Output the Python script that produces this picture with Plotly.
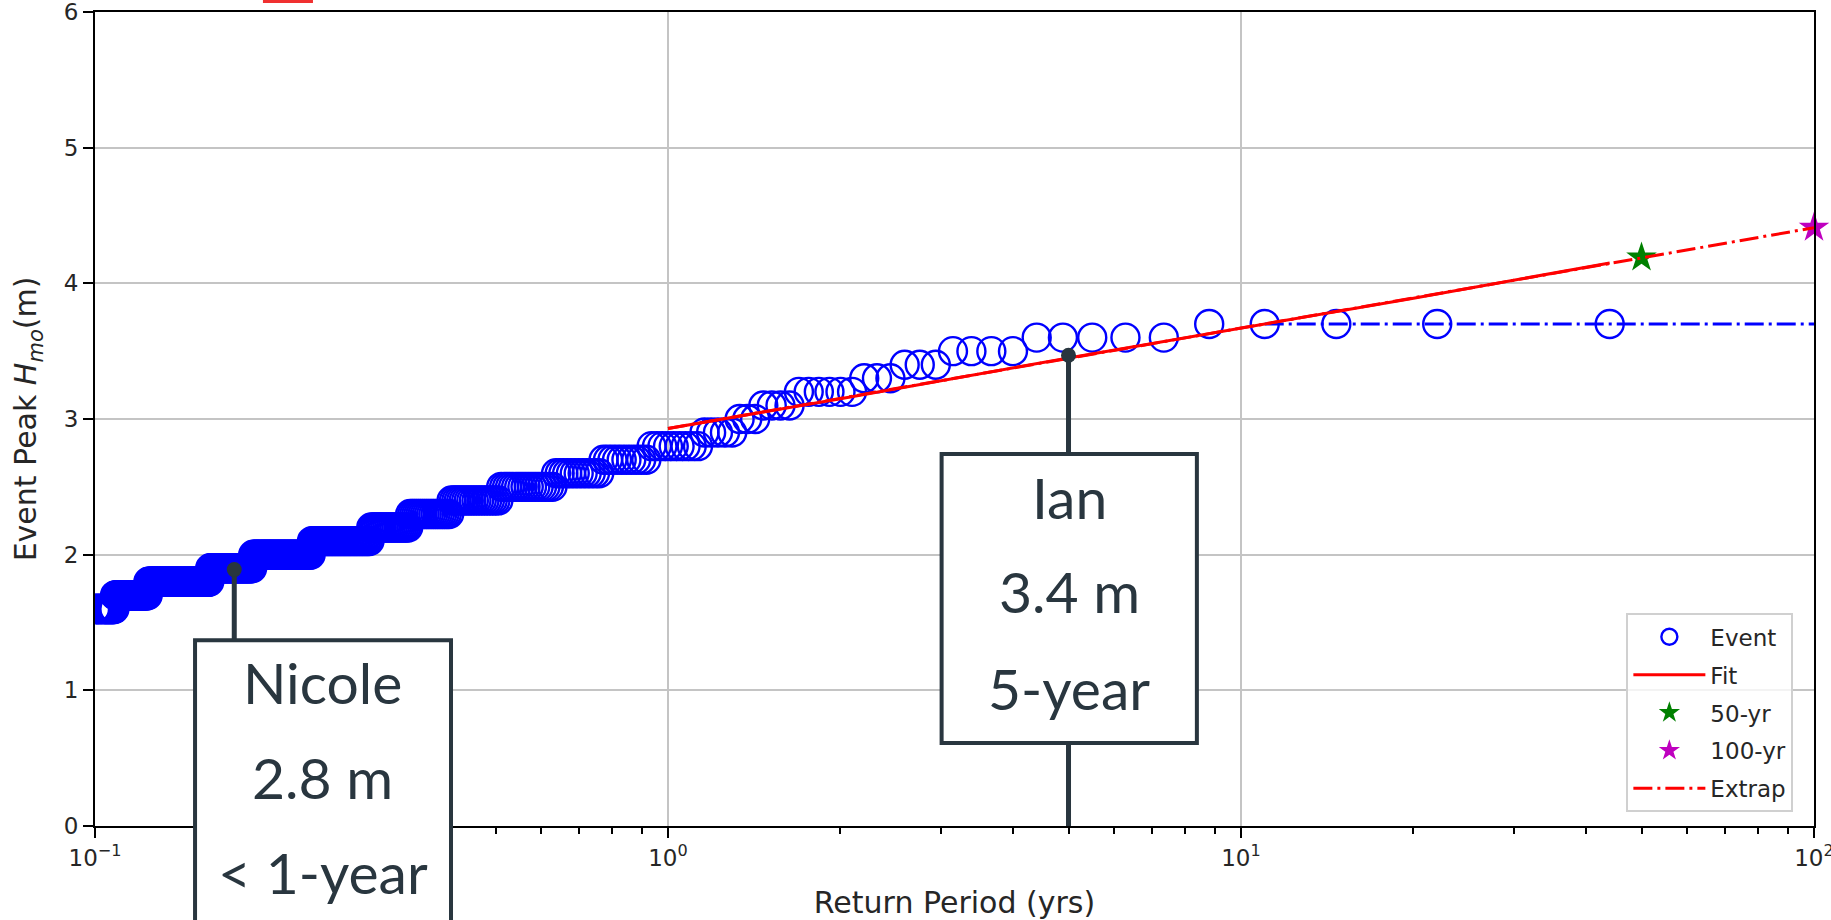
import numpy as np
import plotly.graph_objects as go

# ---------------- data ----------------
RECORD_YEARS = 44  # return period of rank m = RECORD_YEARS / m
EVENT_LEVELS = [3.7, 3.6, 3.5, 3.4, 3.3, 3.2, 3.1, 3.0, 2.9, 2.8, 2.7,
                2.6, 2.5, 2.4, 2.3, 2.2, 2.1, 2.0, 1.9, 1.8, 1.7, 1.6]
EVENT_COUNTS = [5, 5, 4, 3, 3, 6, 4, 3, 5, 9, 10,
                12, 17, 19, 19, 21, 39, 49, 44, 78, 51, 34]

FIT_T = [1, 2, 5, 10, 20, 44]
FIT_H = [2.93, 3.15, 3.45, 3.67, 3.89, 4.15]

EXTRAP_T = [1, 10, 50, 100]
EXTRAP_H = [2.93, 3.67, 4.19, 4.41]

MAXOBS_T = [11, 100]
MAXOBS_H = [3.7, 3.7]

RP50_T, RP50_H = [50], [4.19]
RP100_T, RP100_H = [100], [4.41]

STORM_NAMES = ["Nicole", "Ian"]
STORM_T = [0.175, 5.0]
STORM_H = [1.89, 3.47]
STORM_LINE_END = [1.37, 0.0]
STORM_TEXT = [["Nicole", "2.8 m", "< 1-year"], ["Ian", "3.4 m", "5-year"]]

X_TICKS = [0.1, 1, 10, 100]
X_TICKTEXT = ["10<sup>\u22121</sup>", "10<sup>0</sup>", "10<sup>1</sup>", "10<sup>2</sup>"]
Y_TICKS = [0, 1, 2, 3, 4, 5, 6]

# ---------------- derived ----------------
heights = np.repeat(EVENT_LEVELS, EVENT_COUNTS)
ranks = np.arange(1, len(heights) + 1)
ret_period = RECORD_YEARS / ranks

AX_FONT = "DejaVu Sans"
BOX_COLOR = "#29363f"

fig = go.Figure()

fig.add_trace(go.Scatter(
    x=ret_period, y=heights, mode="markers", name="Event",
    legendgroup="g1",
    marker=dict(symbol="circle-open", size=28, color="#0000ff",
                line=dict(width=2.4, color="#0000ff")),
))
fig.add_trace(go.Scatter(
    x=MAXOBS_T, y=MAXOBS_H, mode="lines", showlegend=False,
    line=dict(color="#0000ff", width=3, dash="19px,5px,3px,5px"),
    cliponaxis=False,
))
fig.add_trace(go.Scatter(
    x=FIT_T, y=FIT_H, mode="lines", name="Fit", legendgroup="g2",
    line=dict(color="#ff0000", width=3),
))
fig.add_trace(go.Scatter(
    x=RP50_T, y=RP50_H, mode="markers", name="50-yr", legendgroup="g3",
    marker=dict(symbol="star", size=23, color="#008000"),
    cliponaxis=False,
))
fig.add_trace(go.Scatter(
    x=RP100_T, y=RP100_H, mode="markers", name="100-yr", legendgroup="g4",
    marker=dict(symbol="star", size=23, color="#bf00bf"),
    cliponaxis=False,
))
fig.add_trace(go.Scatter(
    x=EXTRAP_T, y=EXTRAP_H, mode="lines", name="Extrap", legendgroup="g5",
    line=dict(color="#ff0000", width=3, dash="19px,5px,3px,5px"),
    cliponaxis=False,
))

# storm call-out connectors and dots
for t, h, yend in zip(STORM_T, STORM_H, STORM_LINE_END):
    fig.add_trace(go.Scatter(
        x=[t, t], y=[h, yend], mode="lines", showlegend=False,
        line=dict(color=BOX_COLOR, width=5), hoverinfo="skip",
    ))
fig.add_trace(go.Scatter(
    x=STORM_T, y=STORM_H, mode="markers", showlegend=False,
    marker=dict(size=15, color=BOX_COLOR), text=STORM_NAMES,
))

# call-out boxes (paper coordinates)
boxes = [
    dict(x0=0.0582, x1=0.2071, y0=-0.14, y1=0.2283, cx=0.1326,
         ys=[0.1767, 0.0600, -0.056]),
    dict(x0=0.4925, x1=0.6410, y0=0.102, y1=0.457, cx=0.5668,
         ys=[0.404, 0.2885, 0.170]),
]
shapes = []
annotations = []
for b, lines in zip(boxes, STORM_TEXT):
    shapes.append(dict(type="rect", xref="paper", yref="paper",
                       x0=b["x0"], x1=b["x1"], y0=b["y0"], y1=b["y1"],
                       line=dict(color=BOX_COLOR, width=4),
                       fillcolor="white", layer="above"))
    for txt, yy in zip(lines, b["ys"]):
        annotations.append(dict(xref="paper", yref="paper", x=b["cx"], y=yy,
                                text=txt, showarrow=False,
                                xanchor="center", yanchor="middle",
                                font=dict(family="Lato", size=57, color=BOX_COLOR)))

# cropped red fragment visible at the very top edge
shapes.append(dict(type="line", xref="paper", yref="paper",
                   x0=0.0977, x1=0.1268, y0=1.0135, y1=1.0135,
                   line=dict(color="#f03030", width=4), layer="above"))

minor_vals = [k * 10.0 ** e for e in (-1, 0, 1) for k in range(2, 10)]

fig.update_layout(
    width=1831, height=920,
    margin=dict(l=95, r=17, t=12, b=94, autoexpand=False),
    paper_bgcolor="white", plot_bgcolor="white",
    font=dict(family=AX_FONT, size=23, color="#262626"),
    showlegend=True,
    legend=dict(
        x=0.988, y=0.0168, xanchor="right", yanchor="bottom",
        bgcolor="rgba(255,255,255,0.8)", bordercolor="#d0d0d0", borderwidth=2,
        font=dict(family=AX_FONT, size=23, color="#262626"),
        tracegroupgap=5, itemsizing="trace", itemwidth=72,
    ),
    xaxis=dict(
        type="log", range=[-1, 2],
        tickvals=X_TICKS, ticktext=X_TICKTEXT, ticklabeloverflow="allow",
        ticks="outside", ticklen=10, tickwidth=2, tickcolor="black",
        showline=True, linecolor="black", linewidth=2, mirror=True,
        showgrid=True, gridcolor="#c4c4c4", gridwidth=2,
        zeroline=False,
        minor=dict(tickvals=minor_vals, ticks="outside", ticklen=6,
                   tickwidth=1.5, tickcolor="black", showgrid=False),
        title=dict(text="Return Period (yrs)", font=dict(size=30),
                   standoff=22),
        automargin=False,
        tickfont=dict(size=23),
    ),
    yaxis=dict(
        range=[0, 6], tickvals=Y_TICKS, ticklabeloverflow="allow",
        ticks="outside", ticklen=10, tickwidth=2, tickcolor="black",
        showline=True, linecolor="black", linewidth=2, mirror=True,
        showgrid=True, gridcolor="#c4c4c4", gridwidth=2,
        zeroline=False,
        title=dict(text="Event Peak <i>H<sub>mo</sub></i>(m)",
                   font=dict(size=30), standoff=18),
        automargin=False,
        tickfont=dict(size=23),
    ),
    shapes=shapes,
    annotations=annotations,
)

# remove the default 8px page margin so the figure fills the window exactly
fig.write_html("out.html", config={"displayModeBar": False},
               post_script="document.body.style.margin='0px';")
